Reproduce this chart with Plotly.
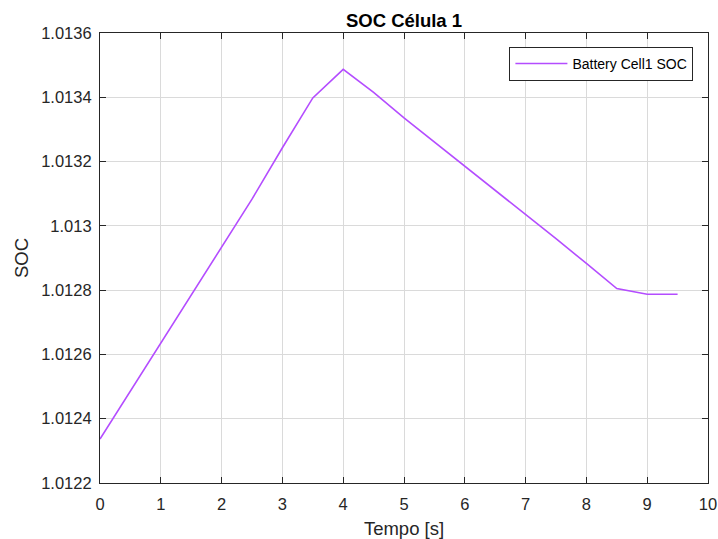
import plotly.graph_objects as go

tempo = [0.0, 0.5, 1.0, 1.5, 2.0, 2.5, 3.0, 3.5, 4.0, 4.5, 5.0, 5.5, 6.0, 6.5, 7.0, 7.5, 8.0, 8.5, 9.0, 9.5]
soc = [1.012337, 1.012487, 1.012636, 1.012785, 1.012934, 1.013083, 1.013243, 1.013398,
       1.013487, 1.013415, 1.013336, 1.013261, 1.013187, 1.013112, 1.013037, 1.012960,
       1.012883, 1.012805, 1.012787, 1.012787]

x_ticks = [0, 1, 2, 3, 4, 5, 6, 7, 8, 9, 10]
y_ticks = [1.0122, 1.0124, 1.0126, 1.0128, 1.0130, 1.0132, 1.0134, 1.0136]
y_ticktext = ["1.0122", "1.0124", "1.0126", "1.0128", "1.013", "1.0132", "1.0134", "1.0136"]

FONT = "Liberation Sans, Arial"

fig = go.Figure()
fig.add_trace(go.Scatter(x=tempo, y=soc, mode="lines", name="Battery Cell1 SOC",
                         line=dict(color="#b44dff", width=1.6)))

axis_common = dict(showline=True, linecolor="#262626", linewidth=1.2, mirror="ticks",
                   ticks="inside", ticklen=6, tickcolor="#262626", automargin=False,
                   showgrid=True, gridcolor="#dadada", gridwidth=1, zeroline=False,
                   tickfont=dict(family=FONT, size=16.5, color="#262626"))

fig.update_layout(
    width=718, height=539,
    margin=dict(l=100, r=10, t=33, b=56),
    paper_bgcolor="white", plot_bgcolor="white",
    title=dict(text="<b>SOC Célula 1</b>", xref="paper", x=0.5, xanchor="center",
               yref="container", y=1 - 21 / 539, yanchor="middle",
               font=dict(family=FONT, size=18.5, color="black")),
    xaxis=dict(range=[0, 10], tickvals=x_ticks, ticklabelstandoff=6,
               title=dict(text="Tempo [s]", standoff=11,
                          font=dict(family=FONT, size=18.5, color="#262626")),
               **axis_common),
    yaxis=dict(range=[1.0122, 1.0136], tickvals=y_ticks, ticktext=y_ticktext,
               ticklabelstandoff=4,
               title=dict(text="SOC", standoff=7,
                          font=dict(family=FONT, size=18.5, color="#262626")),
               **axis_common),
    showlegend=True,
    legend=dict(x=0.976, y=0.969, xanchor="right", yanchor="top",
                bgcolor="white", bordercolor="#262626", borderwidth=1,
                font=dict(family=FONT, size=14, color="black"),
                tracegroupgap=0, itemwidth=52),
)

fig.write_html("out.html")
